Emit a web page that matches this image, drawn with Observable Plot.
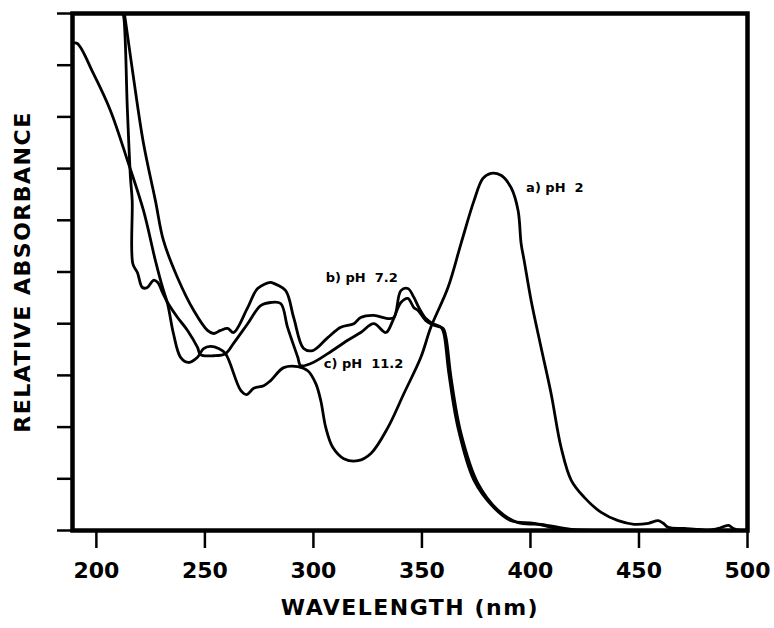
<!DOCTYPE html>
<html>
<head>
<meta charset="utf-8">
<script src="https://cdn.jsdelivr.net/npm/d3@7"></script>
<script src="https://cdn.jsdelivr.net/npm/@observablehq/plot@0.6"></script>
<style>
  html, body { margin: 0; padding: 0; background: #fff; }
</style>
</head>
<body>
<div id="chart"></div>
<script>
// Wavelength (nm) and relative absorbance for each series
const pH2 = [
  [188.9, 9.42], [191.2, 9.42], [198.6, 8.84], [206.5, 8.12], [214.3, 7.16], [221.7, 6.19],
  [227.2, 5.22], [230.5, 4.70], [232.8, 4.39], [235.5, 3.81], [238.8, 3.35], [242.5, 3.25],
  [246.6, 3.35], [249.4, 3.52], [252.6, 3.56], [256.3, 3.52], [259.5, 3.42], [266.5, 2.71],
  [269.2, 2.63], [272.5, 2.75], [277.1, 2.80], [280.3, 2.90], [286.3, 3.15], [292.8, 3.17],
  [297.4, 3.09], [301.1, 2.84], [303.4, 2.51], [305.7, 1.99], [308.9, 1.61], [314.0, 1.39],
  [320.5, 1.35], [326.5, 1.49], [334.3, 1.99], [341.7, 2.65], [349.5, 3.35], [354.1, 3.93],
  [362.0, 4.70], [368.0, 5.55], [374.0, 6.38], [378.1, 6.81], [381.8, 6.91], [386.4, 6.87],
  [391.1, 6.63], [394.3, 6.19], [395.7, 5.55], [397.1, 5.22], [400.3, 4.45], [404.9, 3.54],
  [409.5, 2.65], [414.1, 1.61], [418.8, 0.97], [424.8, 0.64], [432.6, 0.35], [440.4, 0.19],
  [447.8, 0.12], [454.3, 0.14], [458.9, 0.19], [461.2, 0.14], [463.5, 0.06], [470.9, 0.04],
  [477.4, 0.02], [482.0, 0.00], [486.6, 0.04], [491.2, 0.10], [493.5, 0.04], [497.2, 0.00],
  [500.0, 0.00]
];
const pH72 = [
  [212.9, 10.0], [213.4, 9.86], [217.1, 8.76], [221.7, 7.49], [227.2, 6.38], [230.9, 5.61],
  [237.4, 4.89], [244.8, 4.26], [251.2, 3.87], [254.0, 3.81], [257.2, 3.87], [260.5, 3.91],
  [263.2, 3.83], [269.7, 4.31], [274.3, 4.68], [280.3, 4.80], [281.7, 4.78], [287.2, 4.64],
  [290.9, 4.12], [295.5, 3.52], [299.7, 3.48], [306.6, 3.73], [312.6, 3.93], [318.6, 4.00],
  [321.8, 4.12], [327.8, 4.16], [334.3, 4.10], [337.1, 4.12], [340.3, 4.64], [343.5, 4.68],
  [346.3, 4.51], [348.6, 4.31], [351.8, 4.10], [355.1, 4.00], [358.8, 3.93], [360.1, 3.81],
  [362.4, 3.04], [366.6, 1.99], [374.0, 0.97], [383.2, 0.44], [391.1, 0.19], [401.7, 0.14],
  [414.1, 0.02], [432.6, 0.00]
];
const pH112 = [
  [212.0, 10.0], [212.5, 9.96], [214.3, 8.12], [215.7, 6.83], [216.5, 6.38], [216.8, 5.16],
  [218.9, 4.99], [221.2, 4.70], [223.5, 4.70], [226.3, 4.84], [228.2, 4.80], [230.5, 4.60],
  [232.8, 4.41], [237.4, 4.12], [242.0, 3.87], [246.6, 3.54], [248.0, 3.40], [254.0, 3.38],
  [259.5, 3.42], [263.2, 3.62], [269.7, 4.00], [275.7, 4.35], [280.3, 4.41], [284.9, 4.39],
  [288.1, 3.93], [292.8, 3.35], [294.1, 3.19], [298.8, 3.23], [306.6, 3.42], [315.8, 3.68],
  [321.8, 3.83], [327.8, 4.00], [333.4, 3.83], [336.6, 4.06], [340.3, 4.41], [343.5, 4.49],
  [346.3, 4.31], [348.1, 4.26], [351.8, 4.06], [355.5, 3.97], [359.7, 3.91], [361.1, 3.73],
  [363.4, 2.96], [368.0, 1.88], [375.8, 0.91], [385.1, 0.39], [394.3, 0.15], [404.9, 0.12],
  [418.8, 0.02], [432.6, 0.00]
];
const seriesLabels = [
  {text: "a) pH\u00a0\u00a02", wl: 398.0, abs: 6.62},
  {text: "b) pH\u00a0\u00a07.2", wl: 305.7, abs: 4.89},
  {text: "c) pH\u00a0\u00a011.2", wl: 304.8, abs: 3.23}
];
const xTicks = [200, 250, 300, 350, 400, 450, 500];
const yTicks = [0, 1, 2, 3, 4, 5, 6, 7, 8, 9, 10];
const xTitle = "WAVELENGTH (nm)";
const yTitle = "RELATIVE ABSORBANCE";

const lineOpts = {x: d => d[0], y: d => d[1], stroke: "black", strokeWidth: 2.8, curve: "catmull-rom", clip: true};

const plot = Plot.plot({
  width: 774,
  height: 628,
  marginLeft: 72,
  marginRight: 27,
  marginTop: 13,
  marginBottom: 98,
  style: {fontFamily: "DejaVu Sans", fontWeight: "bold", color: "black", background: "white"},
  x: {domain: [189, 500]},
  y: {domain: [0, 10]},
  marks: [
    Plot.axisX({ticks: xTicks, tickSize: 18, tickPadding: 14, strokeWidth: 2.5, fontSize: 22, label: null}),
    Plot.axisY({ticks: yTicks, tickSize: 15, strokeWidth: 2.5, tickFormat: () => "", label: null}),
    Plot.line(pH2, lineOpts),
    Plot.line(pH72, lineOpts),
    Plot.line(pH112, lineOpts),
    Plot.frame({stroke: "black", strokeWidth: 4.5}),
    Plot.text(seriesLabels, {x: "wl", y: "abs", text: "text", textAnchor: "start", fontSize: 13, fontWeight: "bold", fill: "black"}),
    Plot.text([xTitle], {frameAnchor: "bottom", dy: 77, lineAnchor: "middle", textAnchor: "middle", text: d => d, fontSize: 22, fontWeight: "bold", fill: "black"}),
    Plot.text([yTitle], {frameAnchor: "left", dx: -50, rotate: -90, lineAnchor: "middle", textAnchor: "middle", text: d => d, fontSize: 22, fontWeight: "bold", fill: "black"})
  ]
});
document.getElementById("chart").appendChild(plot);
d3.select(plot).selectAll("text")
  .filter(function() { return this.textContent === xTitle || this.textContent === yTitle; })
  .attr("letter-spacing", "1.5px");
</script>
</body>
</html>
